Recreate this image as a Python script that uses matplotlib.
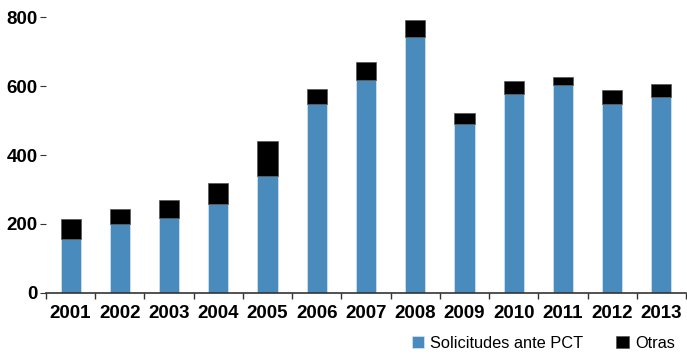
import matplotlib
matplotlib.use("Agg")
import matplotlib.pyplot as plt
from matplotlib import font_manager
import numpy as np

years = ["2001", "2002", "2003", "2004", "2005", "2006", "2007",
         "2008", "2009", "2010", "2011", "2012", "2013"]
pct = [157, 199, 216, 257, 340, 548, 619, 743, 489, 577, 602, 548, 569]
otras = [58, 45, 53, 62, 100, 45, 50, 50, 34, 38, 25, 42, 37]
yticks = [0, 200, 400, 600, 800]

names = {f.name for f in font_manager.fontManager.ttflist}
fam = ["Liberation Sans Narrow", "DejaVu Sans"] if "Liberation Sans Narrow" in names else ["Liberation Sans", "DejaVu Sans"]
plt.rcParams["font.family"] = fam

blue = "#4A8BBD"
fig = plt.figure(figsize=(6.87, 3.54), dpi=100)
ax = fig.add_axes([46/687, 1-292.7/354, (686-46)/687, (292.7-17.3)/354])
x = np.arange(len(years))
w = 0.41
ax.bar(x, pct, width=w, color=blue, edgecolor="#d8e6f0", linewidth=0.5, label="Solicitudes ante PCT")
ax.bar(x, otras, width=w, bottom=pct, color="black", edgecolor="#555555", linewidth=0.5, label="Otras")

ax.set_xlim(-0.5, len(years) - 0.5)
ax.set_ylim(0, 800)
ax.set_yticks(yticks)
ax.set_yticklabels([str(v) for v in yticks], fontsize=13.5, fontweight="bold")
ax.set_xticks(x)
ax.set_xticklabels(years, fontsize=13.5, fontweight="bold")
ax.tick_params(axis="x", length=0, pad=9)
ax.set_xticks(np.arange(len(years) + 1) - 0.5, minor=True)
ax.tick_params(axis="x", which="minor", length=4, width=1, color="#333333", direction="out")
ax.tick_params(axis="y", length=4, width=0.8, color="#333333", pad=2)
for s in ["top", "right", "left"]:
    ax.spines[s].set_visible(False)
ax.spines["bottom"].set_color("#333333")
ax.spines["bottom"].set_linewidth(1.2)

leg = fig.legend(loc="center right", bbox_to_anchor=(675/687, 1-343/354), ncol=2, frameon=False,
                 fontsize=11.8, handlelength=0.75, handleheight=0.75, handletextpad=0.4,
                 columnspacing=2.0, borderaxespad=0, borderpad=0)
fig.savefig("out.png", dpi=100)
